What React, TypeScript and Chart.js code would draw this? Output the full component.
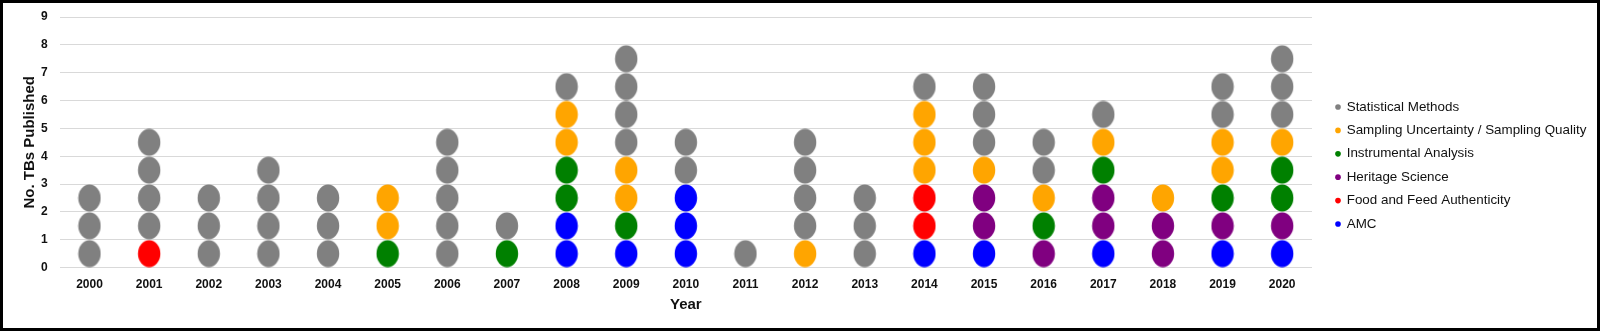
import { useEffect, useRef } from 'react';
import { Chart, registerables } from 'chart.js';

Chart.register(...registerables);

const years = ['2000', '2001', '2002', '2003', '2004', '2005', '2006', '2007', '2008', '2009', '2010', '2011', '2012', '2013', '2014', '2015', '2016', '2017', '2018', '2019', '2020'];
const seriesNames = ['Statistical Methods', 'Sampling Uncertainty / Sampling Quality', 'Instrumental Analysis', 'Heritage Science', 'Food and Feed Authenticity', 'AMC'];
const seriesColors = ['#808080', '#FFA500', '#008000', '#800080', '#FF0000', '#0000FF'];
const statistical = [3, 4, 3, 4, 3, 0, 5, 1, 1, 4, 2, 1, 4, 3, 1, 3, 2, 1, 0, 2, 3];
const sampling = [0, 0, 0, 0, 0, 2, 0, 0, 2, 2, 0, 0, 1, 0, 3, 1, 1, 1, 1, 2, 1];
const instrumental = [0, 0, 0, 0, 0, 1, 0, 1, 2, 1, 0, 0, 0, 0, 0, 0, 1, 1, 0, 1, 2];
const heritage = [0, 0, 0, 0, 0, 0, 0, 0, 0, 0, 0, 0, 0, 0, 0, 2, 1, 2, 2, 1, 1];
const food = [0, 1, 0, 0, 0, 0, 0, 0, 0, 0, 0, 0, 0, 0, 2, 0, 0, 0, 0, 0, 0];
const amc = [0, 0, 0, 0, 0, 0, 0, 0, 2, 1, 3, 0, 0, 0, 1, 1, 0, 1, 0, 1, 1];
const yMin = 0;
const yMax = 9;
const yStep = 1;

// legend order
const seriesCounts = [statistical, sampling, instrumental, heritage, food, amc];
// stacking order from the bottom: AMC, Food, Heritage, Instrumental, Sampling, Statistical
const stackOrder = [5, 4, 3, 2, 1, 0];

const FONT = '"Liberation Sans", Arial, sans-serif';

function makeDot(color: string) {
  const c = document.createElement('canvas');
  c.width = 24;
  c.height = 28;
  const ctx = c.getContext('2d')!;
  ctx.fillStyle = color;
  ctx.beginPath();
  ctx.ellipse(12, 14, 11.2, 13.4, 0, 0, Math.PI * 2);
  ctx.fill();
  return c;
}

function buildPoints() {
  const pts: { x: string; y: number }[][] = seriesCounts.map(() => []);
  years.forEach((yr, i) => {
    let base = 0;
    stackOrder.forEach((s) => {
      const n = seriesCounts[s][i];
      for (let k = 0; k < n; k++) pts[s].push({ x: yr, y: base + k + 0.5 });
      base += n;
    });
  });
  return pts;
}

export default function App() {
  const ref = useRef<HTMLCanvasElement | null>(null);

  useEffect(() => {
    document.body.style.margin = '0';
    const pts = buildPoints();
    const chart = new Chart(ref.current!, {
      type: 'scatter',
      data: {
        labels: years,
        datasets: seriesNames.map((name, s) => ({
          label: name,
          data: pts[s],
          pointStyle: makeDot(seriesColors[s]) as any,
          backgroundColor: seriesColors[s],
          borderColor: seriesColors[s],
          pointRadius: 12,
          clip: false as any,
        })),
      },
      options: {
        animation: false,
        responsive: false,
        maintainAspectRatio: false,
        layout: { autoPadding: false, padding: { top: 14, right: 10, left: 18, bottom: 14 } },
        plugins: {
          tooltip: { enabled: false },
          legend: {
            position: 'right',
            labels: {
              usePointStyle: true,
              pointStyle: 'circle',
              boxWidth: 4,
              boxHeight: 4,
              padding: 10,
              color: '#111',
              font: { family: FONT, size: 13.4 },
              generateLabels: (ch: any) =>
                ch.data.datasets.map((d: any, i: number) => ({
                  text: d.label,
                  fillStyle: seriesColors[i],
                  strokeStyle: seriesColors[i],
                  lineWidth: 0,
                  pointStyle: 'circle',
                  datasetIndex: i,
                  hidden: false,
                  fontColor: '#111',
                })),
            },
          },
        },
        scales: {
          x: {
            type: 'category',
            labels: years,
            offset: true,
            grid: { display: false, drawTicks: false },
            border: { display: false },
            ticks: { color: '#111', padding: 10, font: { family: FONT, size: 12, weight: 'bold' }, maxRotation: 0, autoSkip: false },
            title: { display: true, text: 'Year', color: '#111', font: { family: FONT, size: 15, weight: 'bold' }, padding: { top: -6, bottom: 0 } },
          },
          y: {
            min: yMin,
            max: yMax,
            grid: { color: '#d9d9d9', lineWidth: 1, drawTicks: false },
            border: { display: false },
            ticks: { stepSize: yStep, color: '#111', padding: 12, font: { family: FONT, size: 12, weight: 'bold' } },
            title: { display: true, text: 'No. TBs Published', color: '#111', font: { family: FONT, size: 15, weight: 'bold' }, padding: { top: 0, bottom: -10 } },
            afterFit: (s: any) => {
              s.paddingTop = 7;
              s.paddingBottom = 7;
            },
          },
          gap: {
            type: 'linear',
            position: 'right',
            min: yMin,
            max: yMax,
            display: true,
            grid: { display: false, drawTicks: false },
            border: { display: false },
            ticks: { display: false },
            afterFit: (s: any) => {
              s.width = 14;
            },
          },
        },
      },
    });
    return () => chart.destroy();
  }, []);

  return (
    <div
      style={{
        position: 'fixed',
        left: 0,
        top: 0,
        width: 1600,
        height: 331,
        boxSizing: 'border-box',
        border: '3px solid #000',
        background: '#fff',
      }}
    >
      <canvas ref={ref} width={1594} height={325} style={{ display: 'block' }} />
    </div>
  );
}
